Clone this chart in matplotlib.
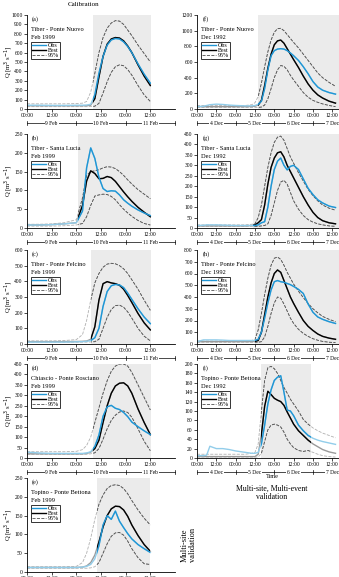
import matplotlib
matplotlib.use("Agg")
import matplotlib.pyplot as plt
import matplotlib.transforms as mtransforms
import numpy as np

plt.rcParams['font.family'] = ['Liberation Serif', 'DejaVu Serif']

# hours from the start of the window
t_left = [0, 6, 12, 18, 24, 27, 29, 31, 33, 35, 37, 39, 41, 43, 45, 47, 49, 51, 54, 57, 60]
t_right = [0, 4, 6, 8, 12, 16, 20, 24, 30, 34, 36, 38, 40, 42, 44, 46, 48, 50, 52, 54, 56,
           58, 60, 63, 66, 69, 72, 75, 78, 82, 86]

# (a) Tiber - Ponte Nuovo, Feb 1999
obs_a = [40, 40, 38, 38, 40, 40, 42, 50, 150, 380, 560, 680, 735, 750, 745, 715, 665, 600, 480, 370, 275]
best_a = [35, 35, 35, 35, 35, 35, 36, 40, 110, 340, 560, 690, 745, 760, 755, 725, 670, 600, 470, 350, 250]
up_a = [55, 55, 55, 55, 58, 62, 80, 180, 380, 600, 760, 860, 915, 940, 935, 900, 840, 780, 680, 590, 500]
lo_a = [25, 25, 25, 25, 25, 25, 25, 26, 30, 60, 170, 290, 390, 450, 470, 460, 420, 360, 250, 150, 80]

# (b) Tiber - Santa Lucia, Feb 1999
obs_b = [8, 8, 9, 11, 14, 45, 160, 213, 185, 135, 105, 97, 99, 98, 88, 75, 66, 58, 48, 40, 33]
best_b = [8, 8, 9, 11, 14, 60, 125, 152, 145, 131, 132, 137, 134, 124, 110, 96, 83, 71, 55, 42, 30]
up_b = [10, 10, 11, 14, 22, 80, 140, 150, 152, 155, 160, 163, 162, 158, 150, 140, 128, 117, 102, 90, 78]
lo_b = [5, 5, 5, 6, 8, 12, 30, 60, 85, 88, 90, 89, 84, 75, 62, 50, 40, 31, 20, 12, 8]

# (c) Tiber - Ponte Felcino, Feb 1999
obs_c = [12, 12, 12, 12, 14, 15, 17, 22, 40, 100, 240, 335, 372, 380, 377, 360, 325, 285, 225, 172, 130]
best_c = [15, 15, 15, 15, 16, 17, 19, 30, 110, 280, 385, 398, 390, 385, 375, 350, 310, 265, 195, 135, 90]
up_c = [20, 20, 20, 22, 28, 60, 150, 280, 390, 450, 490, 510, 515, 512, 500, 480, 450, 410, 350, 280, 215]
lo_c = [12, 12, 12, 12, 12, 12, 12, 13, 15, 30, 100, 170, 220, 245, 248, 235, 205, 165, 100, 50, 20]

# (d) Chiascio - Ponte Rosciano, Feb 1999
obs_d = [28, 24, 22, 22, 22, 22, 24, 30, 55, 110, 200, 245, 252, 238, 232, 218, 198, 172, 150, 130, 112]
best_d = [20, 20, 20, 20, 20, 20, 22, 28, 45, 85, 170, 250, 310, 345, 358, 360, 345, 310, 235, 170, 112]
up_d = [30, 30, 30, 30, 32, 40, 60, 100, 170, 240, 310, 370, 415, 440, 450, 450, 440, 410, 350, 290, 230]
lo_d = [18, 18, 18, 18, 18, 18, 18, 20, 25, 45, 90, 140, 180, 205, 220, 225, 218, 195, 140, 80, 35]

# (e) Topino - Ponte Bettona, Feb 1999
obs_e = [12, 12, 12, 12, 12, 13, 15, 20, 35, 70, 125, 150, 140, 162, 135, 118, 102, 88, 73, 62, 52]
best_e = [12, 12, 12, 12, 12, 13, 16, 25, 45, 80, 120, 150, 168, 175, 174, 165, 148, 125, 97, 73, 55]
up_e = [14, 14, 14, 14, 15, 25, 50, 90, 140, 180, 205, 222, 230, 232, 230, 222, 208, 190, 165, 143, 125]
lo_e = [10, 10, 10, 10, 10, 10, 10, 11, 14, 25, 50, 75, 95, 104, 105, 98, 82, 62, 38, 22, 20]

# (f) Tiber - Ponte Nuovo, Dec 1992
obs_f = [30, 35, 45, 55, 62, 58, 50, 45, 40, 40, 45, 60, 100, 260, 500, 680, 745, 765, 770, 765, 745,
         715, 680, 620, 540, 450, 350, 280, 240, 210, 190]
best_f = [30, 30, 30, 30, 30, 30, 30, 30, 30, 32, 35, 50, 110, 300, 520, 700, 820, 870, 880, 840, 770,
          700, 630, 530, 420, 320, 240, 180, 140, 100, 75]
up_f = [45, 45, 45, 45, 45, 45, 45, 45, 45, 55, 80, 160, 330, 540, 730, 880, 980, 1025, 1030, 1000, 950,
        900, 850, 780, 700, 620, 540, 460, 400, 340, 290]
lo_f = [20, 20, 20, 20, 20, 20, 20, 20, 20, 20, 20, 20, 25, 50, 130, 260, 400, 500, 555, 545, 500,
        430, 370, 290, 210, 150, 110, 85, 65, 45, 30]

# (g) Tiber - Santa Lucia, Dec 1992
obs_g = [12, 13, 15, 15, 15, 14, 13, 12, 12, 12, 12, 15, 25, 30, 100, 200, 280, 320, 335, 300, 278,
         295, 300, 280, 235, 190, 160, 135, 120, 105, 98]
best_g = [10, 10, 10, 10, 10, 10, 10, 10, 10, 12, 15, 25, 40, 110, 210, 290, 335, 360, 365, 340, 300,
          270, 240, 195, 150, 110, 75, 50, 35, 25, 20]
up_g = [15, 15, 15, 15, 15, 15, 15, 15, 15, 18, 20, 50, 110, 200, 290, 360, 410, 435, 440, 420, 380,
        340, 310, 265, 225, 185, 155, 130, 110, 95, 85]
lo_g = [8, 8, 8, 8, 8, 8, 8, 8, 8, 8, 8, 8, 10, 12, 20, 60, 120, 180, 220, 228, 210,
        170, 130, 90, 60, 40, 28, 20, 15, 10, 8]

# (h) Tiber - Ponte Felcino, Dec 1992
obs_h = [20, 35, 35, 35, 35, 33, 30, 30, 30, 30, 30, 40, 100, 220, 350, 460, 530, 540, 530, 525, 515,
         505, 490, 465, 430, 340, 270, 230, 210, 190, 175]
best_h = [20, 20, 20, 20, 20, 20, 20, 20, 20, 20, 22, 30, 100, 250, 400, 520, 600, 630, 610, 540, 470,
          400, 345, 270, 200, 150, 115, 85, 65, 50, 40]
up_h = [25, 25, 25, 25, 25, 25, 25, 25, 25, 30, 40, 120, 260, 420, 560, 670, 730, 740, 720, 670, 610,
        560, 510, 450, 395, 345, 300, 265, 235, 210, 190]
lo_h = [15, 15, 15, 15, 15, 15, 15, 15, 15, 15, 15, 15, 20, 60, 150, 260, 350, 400, 390, 340, 280,
        220, 175, 125, 90, 65, 45, 32, 22, 15, 12]

# (i) Topino - Ponte Bettona, Dec 1992
obs_i = [5, 5, 6, 25, 20, 20, 18, 15, 12, 10, 10, 12, 30, 70, 115, 145, 165, 172, 175, 140, 102,
         100, 90, 70, 58, 48, 42, 38, 35, 32, 29]
best_i = [3, 3, 3, 3, 3, 3, 3, 3, 3, 3, 3, 8, 50, 110, 142, 135, 127, 123, 120, 112, 98,
          85, 72, 58, 48, 38, 30, 24, 18, 13, 10]
up_i = [8, 8, 8, 8, 8, 8, 8, 8, 8, 10, 12, 30, 100, 165, 192, 195, 190, 180, 165, 150, 138,
        125, 115, 100, 82, 72, 64, 58, 53, 48, 43]
lo_i = [2, 2, 2, 2, 2, 2, 2, 2, 2, 2, 2, 2, 10, 35, 60, 70, 72, 70, 66, 55, 40,
        30, 22, 16, 14, 16, 12, 8, 5, 3, 2]

panels = [
    # letter, station, event, column, row, obs, best, up, lo, shade, ymax, ystep
    ('(a)', 'Tiber - Ponte Nuovo', 'Feb 1999', 0, 0, obs_a, best_a, up_a, lo_a, (32, 60.3), 1000, 100),
    ('(b)', 'Tiber - Santa Lucia', 'Feb 1999', 0, 1, obs_b, best_b, up_b, lo_b, (25, 60.3), 250, 50),
    ('(c)', 'Tiber - Ponte Felcino', 'Feb 1999', 0, 2, obs_c, best_c, up_c, lo_c, (31, 60.3), 600, 100),
    ('(d)', 'Chiascio - Ponte Rosciano', 'Feb 1999', 0, 3, obs_d, best_d, up_d, lo_d, (32, 60.3), 450, 50),
    ('(e)', 'Topino - Ponte Bettona', 'Feb 1999', 0, 4, obs_e, best_e, up_e, lo_e, (34, 60.0), 250, 50),
    ('(f)', 'Tiber - Ponte Nuovo', 'Dec 1992', 1, 0, obs_f, best_f, up_f, lo_f, (38, 96), 1200, 200),
    ('(g)', 'Tiber - Santa Lucia', 'Dec 1992', 1, 1, obs_g, best_g, up_g, lo_g, (35, 96), 450, 50),
    ('(h)', 'Tiber - Ponte Felcino', 'Dec 1992', 1, 2, obs_h, best_h, up_h, lo_h, (36, 96), 800, 100),
    ('(i)', 'Topino - Ponte Bettona', 'Dec 1992', 1, 3, obs_i, best_i, up_i, lo_i, (39.5, 71), 200, 20),
]

left_days = ['9 Feb', '10 Feb', '11 Feb']
right_days = ['4 Dec', '5 Dec', '6 Dec', '7 Dec']

W, H = 339, 577
fig = plt.figure(figsize=(W / 100, H / 100), dpi=100)

row_tops = [15, 134, 250, 364, 478]
ax_h = 94
col_x = [27, 197]
col_w = [148, 154.6]

obs_col, obs_light = '#1f95d4', '#92cdea'
dash_col, dash_light = '#505050', '#b0b0b0'

for letter, station, event, col, row, obs, best, up, lo, shade, ymax, ystep in panels:
    top = row_tops[row]
    ax = fig.add_axes([col_x[col] / W, 1 - (top + ax_h) / H, col_w[col] / W, ax_h / H])
    t = t_left if col == 0 else t_right
    span = ax.axvspan(shade[0], shade[1], color='#ebebeb', lw=0, zorder=0)

    # light line everywhere, full colour only inside the shaded window
    series = [(up, dash_col, dash_light, '--', 0.6),
              (lo, dash_col, dash_light, '--', 0.6),
              (best, 'black', '#9a9a9a', '-', 1.0),
              (obs, obs_col, obs_light, '-', 1.0)]
    for vals, c, cl, ls, lw in series:
        ax.plot(t, vals, color=cl, ls=ls, lw=lw, zorder=2)
        ln, = ax.plot(t, vals, color=c, ls=ls, lw=lw, zorder=3)
        ln.set_clip_path(span)

    leg_h = [plt.Line2D([], [], color=obs_col, lw=1.0),
             plt.Line2D([], [], color='black', lw=1.0),
             plt.Line2D([], [], color=dash_col, lw=0.6, ls='--')]
    leg = ax.legend(leg_h, ['Obs', 'Best', '95%'], loc='upper left', bbox_to_anchor=(0.025, 0.715),
                    fontsize=4.3, frameon=True, fancybox=False, borderpad=0.15, labelspacing=0.0,
                    handlelength=2.4, handletextpad=0.3, borderaxespad=0)
    leg.get_frame().set_edgecolor('black')
    leg.get_frame().set_linewidth(0.7)

    ax.text(0.035, 0.985, letter, transform=ax.transAxes, fontsize=4.5, va='top', ha='left')
    ax.text(0.025, 0.87, station, transform=ax.transAxes, fontsize=4.6, va='top', ha='left')
    ax.text(0.025, 0.79, event, transform=ax.transAxes, fontsize=4.6, va='top', ha='left')

    ax.set_ylim(0, ymax)
    ax.set_yticks(np.arange(0, ymax + 1, ystep))
    if col == 0:
        ax.set_xlim(0, 72)
        ax.set_xticks(np.arange(0, 61, 12))
        ax.set_xticklabels(['00:00', '12:00'] * 3)
        days = left_days
        ax.set_ylabel('Q [m$^3$ s$^{-1}$]', fontsize=4.8)
        ax.yaxis.set_label_coords(-0.078, 0.5)
    else:
        ax.set_xlim(0, 96)
        ax.set_xticks(np.arange(0, 85, 12))
        ax.set_xticklabels(['00:00', '12:00'] * 4)
        days = right_days

    ax.spines['top'].set_visible(False)
    ax.spines['right'].set_visible(False)
    ax.spines['left'].set_linewidth(0.6)
    ax.spines['bottom'].set_linewidth(0.6)
    ax.tick_params(labelsize=4, length=2, width=0.5, pad=1)

    # date bracket under the time ticks
    tr = mtransforms.blended_transform_factory(ax.transData, ax.transAxes)
    nd = len(days)
    yb = -0.15
    ax.plot([0, 24 * nd], [yb, yb], color='black', lw=0.5, transform=tr, clip_on=False)
    for k in range(nd + 1):
        ax.plot([24 * k, 24 * k], [yb - 0.025, yb + 0.025], color='black', lw=0.5,
                transform=tr, clip_on=False)
    for k, d in enumerate(days):
        ax.text(24 * k + 12, yb, d, transform=tr, fontsize=4, ha='center', va='center',
                bbox=dict(facecolor='white', edgecolor='none', pad=0.6))

fig.text(84 / W, 1 - 5 / H, 'Calibration', fontsize=5, ha='center', va='center')
fig.text(272 / W, 1 - 477 / H, 'Time', fontsize=4.5, ha='center', va='center')
fig.text(272 / W, 1 - 493 / H, 'Multi-site, Multi-event\nvalidation', fontsize=5.6,
         ha='center', va='center', linespacing=1.0)
fig.text(189 / W, 1 - 545 / H, 'Multi-site\nvalidation', fontsize=6, rotation=90,
         ha='center', va='center', linespacing=1.0)

fig.savefig('out.png', dpi=100)
